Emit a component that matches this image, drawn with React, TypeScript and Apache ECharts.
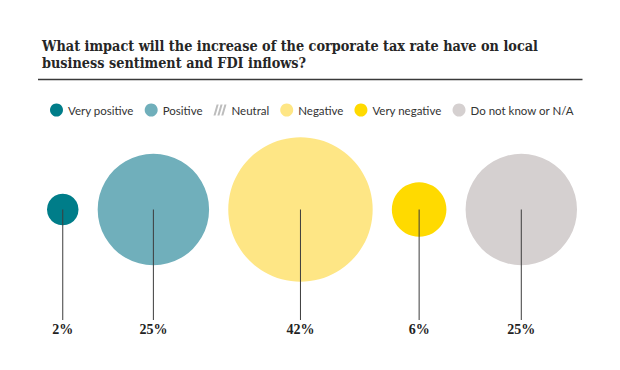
import React, { useEffect, useRef } from "react";
import * as echarts from "echarts";

const titleText =
  "What impact will the increase of the corporate tax rate have on local\nbusiness sentiment and FDI inflows?";
const categories = [
  "Very positive",
  "Positive",
  "Neutral",
  "Negative",
  "Very negative",
  "Do not know or N/A",
];
const values = [2, 25, 0, 42, 6, 25];
const colors = ["#007d89", "#70afbb", "#bdbdbd", "#fee685", "#ffda00", "#d5d0d0"];

const GAP_UNITS = 1.72; // gap between bubbles, in sqrt-of-percent units
const GRID_LEFT = 47;
const GRID_RIGHT = 43;
const CHART_W = 620;
const CHART_H = 370;

const neutralIcon =
  "path://M0,12L3.4,0L5.6,0L2.2,12Z M4.2,12L7.6,0L9.8,0L6.4,12Z M8.4,12L11.8,0L14,0L10.6,12Z";

export default function App() {
  const ref = useRef<HTMLDivElement>(null);
  useEffect(() => {
    if (!ref.current) return;
    const chart = echarts.init(ref.current, undefined, { renderer: "svg" });

    // layout: bubbles side by side, radius proportional to sqrt(value)
    const positions: number[] = [];
    let cursor = 0;
    let first = true;
    values.forEach((v) => {
      if (v <= 0) {
        positions.push(NaN);
        return;
      }
      const r = Math.sqrt(v);
      if (!first) cursor += GAP_UNITS;
      first = false;
      positions.push(cursor + r);
      cursor += 2 * r;
    });
    const total = cursor;
    const pxPerUnit = (CHART_W - GRID_LEFT - GRID_RIGHT) / total;

    const scatterSeries = categories.map((name, i) => ({
      name,
      type: "scatter",
      itemStyle: { color: colors[i], opacity: 1 },
      symbol: "circle",
      symbolSize: (d: number[]) => 2 * Math.sqrt(d[2]) * pxPerUnit,
      data: values[i] > 0 ? [[positions[i], 1, values[i]]] : [],
      silent: true,
      z: 2,
    }));

    const labelData = values
      .map((v, i) => [positions[i], v])
      .filter((d) => d[1] > 0);

    const option: any = {
      animation: false,
      backgroundColor: "#ffffff",
      title: {
        text: titleText,
        left: 37,
        top: 32,
        textStyle: {
          fontFamily: "DejaVu Serif Condensed, DejaVu Serif",
          fontWeight: "bold",
          fontSize: 14.3,
          lineHeight: 17.5,
          color: "#262626",
        },
      },
      graphic: [
        {
          type: "line",
          shape: { x1: 38, y1: 79.5, x2: 582.5, y2: 79.5 },
          style: { stroke: "#3a3a3a", lineWidth: 1.5 },
        },
      ],
      legend: {
        left: 50,
        top: 103.5,
        width: 565,
        padding: 0,
        itemGap: 11,
        itemWidth: 13,
        itemHeight: 13,
        textStyle: {
          fontFamily: "Lato",
          fontSize: 11.5,
          color: "#333333",
        },
        data: categories.map((name, i) =>
          i === 2
            ? { name, icon: neutralIcon, itemStyle: { color: colors[i] } }
            : { name, icon: "circle" }
        ),
      },
      grid: {
        left: GRID_LEFT,
        right: GRID_RIGHT,
        top: 209.5,
        bottom: 40.5,
      },
      xAxis: { type: "value", min: 0, max: total, show: false },
      yAxis: { type: "value", min: 0, max: 1, show: false },
      series: [
        ...scatterSeries,
        {
          type: "custom",
          name: "labels",
          silent: true,
          z: 5,
          data: labelData,
          renderItem: (params: any, api: any) => {
            const x = api.value(0);
            const v = api.value(1);
            const top = api.coord([x, 1]);
            const bottom = api.coord([x, 0]);
            return {
              type: "group",
              children: [
                {
                  type: "line",
                  shape: {
                    x1: top[0],
                    y1: top[1],
                    x2: bottom[0],
                    y2: bottom[1] - 9.5,
                  },
                  style: { stroke: "#3c3c3c", lineWidth: 1 },
                },
                {
                  type: "text",
                  x: bottom[0],
                  y: bottom[1],
                  style: {
                    text: `${v}%`,
                    fontFamily: "Liberation Serif",
                    fontWeight: "bold",
                    fontSize: 14,
                    fill: "#222222",
                    align: "center",
                    verticalAlign: "middle",
                  },
                },
              ],
            };
          },
        },
      ],
    };
    chart.setOption(option);
    return () => chart.dispose();
  }, []);
  return (
    <div
      ref={ref}
      style={{
        position: "fixed",
        left: 0,
        top: 0,
        width: CHART_W,
        height: CHART_H,
      }}
    />
  );
}
